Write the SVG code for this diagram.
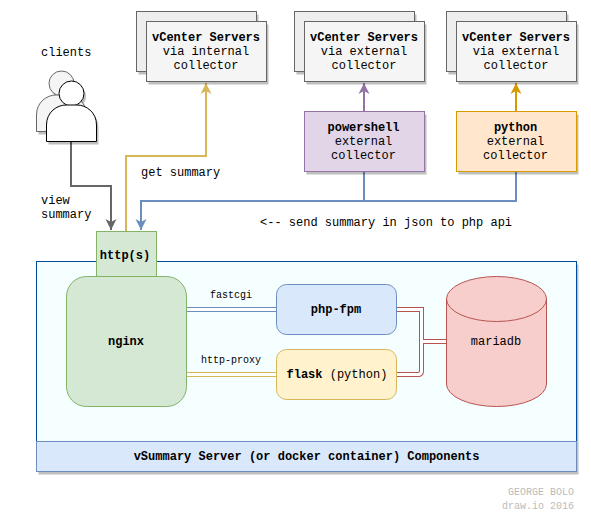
<svg xmlns="http://www.w3.org/2000/svg" width="591" height="524" viewBox="0 0 591 524">
<style>
text{font-family:"Liberation Mono","DejaVu Sans Mono",monospace;font-size:12px;fill:#000}
.b{font-weight:bold}
.m{text-anchor:middle}
.s{font-size:10px}
.w{fill:#bbb}
.n{fill:#f5f5f5;stroke:#666;stroke-width:1}
.sh{fill:#000;fill-opacity:.25;stroke:none}
.c{fill:none;stroke-width:2}
</style>
<defs>
<marker id="a-gray" markerUnits="userSpaceOnUse" markerWidth="14" markerHeight="14" refX="11" refY="6" orient="auto"><path d="M0 0.5L11 6L0 11.5L3 6Z" fill="#666"/></marker>
<marker id="a-yellow" markerUnits="userSpaceOnUse" markerWidth="14" markerHeight="14" refX="11" refY="6" orient="auto"><path d="M0 0.5L11 6L0 11.5L3 6Z" fill="#d6b656"/></marker>
<marker id="a-blue" markerUnits="userSpaceOnUse" markerWidth="14" markerHeight="14" refX="11" refY="6" orient="auto"><path d="M0 0.5L11 6L0 11.5L3 6Z" fill="#6c8ebf"/></marker>
<marker id="a-purple" markerUnits="userSpaceOnUse" markerWidth="14" markerHeight="14" refX="11" refY="6" orient="auto"><path d="M0 0.5L11 6L0 11.5L3 6Z" fill="#9673a6"/></marker>
<marker id="a-orange" markerUnits="userSpaceOnUse" markerWidth="14" markerHeight="14" refX="11" refY="6" orient="auto"><path d="M0 0.5L11 6L0 11.5L3 6Z" fill="#d79b00"/></marker>
</defs>

<g id="server-container">
<rect class="sh" x="38.5" y="264.5" width="540" height="210"/>
<rect x="36.5" y="261.5" width="540" height="180" fill="#f6ffff" stroke="#004c99"/>
<rect x="36.5" y="441.5" width="540" height="30" fill="#dae8fc" stroke="#6c8ebf"/>
<text class="b m" x="306.5" y="460">vSummary Server (or docker container) Components</text>
</g>

<g id="connectors">
<path class="c" stroke="#666" d="M71 141.5V186H111V230" marker-end="url(#a-gray)"/>
<path class="c" stroke="#d6b656" d="M126 231.5V156H206V83" marker-end="url(#a-yellow)"/>
<path class="c" stroke="#6c8ebf" d="M364 171.5V201H141V230" marker-end="url(#a-blue)"/>
<path class="c" stroke="#6c8ebf" d="M516 171.5V201H141"/>
<path class="c" stroke="#9673a6" d="M364 111.5V83" marker-end="url(#a-purple)"/>
<path class="c" stroke="#d79b00" d="M516 111.5V83" marker-end="url(#a-orange)"/>
<path fill="none" stroke="#6c8ebf" stroke-width="5" d="M186.5 309.5H276.5"/>
<path fill="none" stroke="#fff" stroke-width="3" d="M186.5 309.5H276.5"/>
<path fill="none" stroke="#d6b656" stroke-width="5" d="M186.5 374.5H276.5"/>
<path fill="none" stroke="#fff" stroke-width="3" d="M186.5 374.5H276.5"/>
<path fill="none" stroke="#b85450" stroke-width="5" d="M396.5 309.5H421.5V341.5H446.5M396.5 374.5H418Q421.5 374.5 421.5 371V341.5"/>
<path fill="none" stroke="#fff" stroke-width="3" d="M396.5 309.5H421.5V341.5H446.5M396.5 374.5H418Q421.5 374.5 421.5 371V341.5"/>
</g>

<g id="vcenter-internal">
<rect class="sh" x="138.5" y="14.5" width="120" height="60"/>
<rect x="136.5" y="11.5" width="120" height="60" fill="#eee" stroke="#666"/>
<rect class="sh" x="148.5" y="24.5" width="120" height="60"/>
<rect class="n" x="146.5" y="21.5" width="120" height="60"/>
<text class="b m" x="206" y="41">vCenter Servers</text>
<text class="m" x="206" y="55">via internal</text>
<text class="m" x="206" y="69">collector</text>
</g>
<g id="vcenter-external-1">
<rect class="sh" x="296.5" y="14.5" width="120" height="60"/>
<rect x="294.5" y="11.5" width="120" height="60" fill="#eee" stroke="#666"/>
<rect class="sh" x="306.5" y="24.5" width="120" height="60"/>
<rect class="n" x="304.5" y="21.5" width="120" height="60"/>
<text class="b m" x="364" y="41">vCenter Servers</text>
<text class="m" x="364" y="55">via external</text>
<text class="m" x="364" y="69">collector</text>
</g>
<g id="vcenter-external-2">
<rect class="sh" x="448.5" y="14.5" width="120" height="60"/>
<rect x="446.5" y="11.5" width="120" height="60" fill="#eee" stroke="#666"/>
<rect class="sh" x="458.5" y="24.5" width="120" height="60"/>
<rect class="n" x="456.5" y="21.5" width="120" height="60"/>
<text class="b m" x="516" y="41">vCenter Servers</text>
<text class="m" x="516" y="55">via external</text>
<text class="m" x="516" y="69">collector</text>
</g>
<g id="powershell">
<rect class="sh" x="306.5" y="114.5" width="120" height="60"/>
<rect x="304.5" y="111.5" width="120" height="60" fill="#e1d5e7" stroke="#9673a6"/>
<text class="b m" x="363.5" y="131">powershell</text>
<text class="m" x="363.5" y="145">external</text>
<text class="m" x="363.5" y="159">collector</text>
</g>
<g id="python">
<rect class="sh" x="458.5" y="114.5" width="120" height="60"/>
<rect x="456.5" y="111.5" width="120" height="60" fill="#ffe6cc" stroke="#d79b00"/>
<text class="b m" x="515.5" y="131">python</text>
<text class="m" x="515.5" y="145">external</text>
<text class="m" x="515.5" y="159">collector</text>
</g>

<g id="clients">
<g fill="#000" fill-opacity=".25" transform="translate(2 3)">
<circle cx="61.5" cy="83.5" r="12.5"/>
<path d="M36.5 131.5V115C36.5 102 47 95 56 95H67C76 95 86.5 102 86.5 115V131.5Z"/>
<circle cx="71.5" cy="93.5" r="12.5"/>
<path d="M46.5 141.5V125C46.5 112 57 105 66 105H77C86 105 96.5 112 96.5 125V141.5Z"/>
</g>
<circle cx="61.5" cy="83.5" r="12.5" fill="#f5f5f5" stroke="#666"/>
<path d="M36.5 131.5V115C36.5 102 47 95 56 95H67C76 95 86.5 102 86.5 115V131.5Z" fill="#f5f5f5" stroke="#666"/>
<circle cx="71.5" cy="93.5" r="12.5" fill="#fff" stroke="#000"/>
<path d="M46.5 141.5V125C46.5 112 57 105 66 105H77C86 105 96.5 112 96.5 125V141.5Z" fill="#fff" stroke="#000"/>
</g>

<g id="http">
<rect x="96.5" y="231.5" width="60" height="45" fill="#d5e8d4" stroke="#82b366"/>
<text class="b m" x="125" y="259">http(s)</text>
</g>
<g id="nginx">
<rect x="66.5" y="276.5" width="120" height="130" rx="20" fill="#d5e8d4" stroke="#82b366"/>
<text class="b m" x="126" y="345">nginx</text>
</g>
<g id="php-fpm">
<rect x="276.5" y="284.5" width="120" height="50" rx="10" fill="#dae8fc" stroke="#6c8ebf"/>
<text class="b m" x="336" y="313">php-fpm</text>
</g>
<g id="flask">
<rect x="276.5" y="349.5" width="120" height="50" rx="10" fill="#fff2cc" stroke="#d6b656"/>
<text x="286.5" y="378"><tspan class="b">flask</tspan><tspan> (python)</tspan></text>
</g>
<g id="mariadb">
<path d="M446.5 299A50 22.5 0 0 1 546.5 299V384A50 22.5 0 0 1 446.5 384Z" fill="#f8cecc" stroke="#b85450"/>
<path d="M446.5 299A50 22.5 0 0 0 546.5 299" fill="none" stroke="#b85450"/>
<text class="m" x="496" y="345">mariadb</text>
</g>

<g id="labels">
<text x="41" y="56">clients</text>
<text x="141" y="176">get summary</text>
<text x="41" y="204">view</text>
<text x="41" y="218">summary</text>
<text x="260" y="226">&lt;-- send summary in json to php api</text>
<text class="s m" x="231" y="298">fastcgi</text>
<text class="s m" x="231" y="363">http-proxy</text>
<text class="s w" x="574" y="495" text-anchor="end">GEORGE BOLO</text>
<text class="s w" x="574" y="509" text-anchor="end">draw.io 2016</text>
</g>
</svg>
